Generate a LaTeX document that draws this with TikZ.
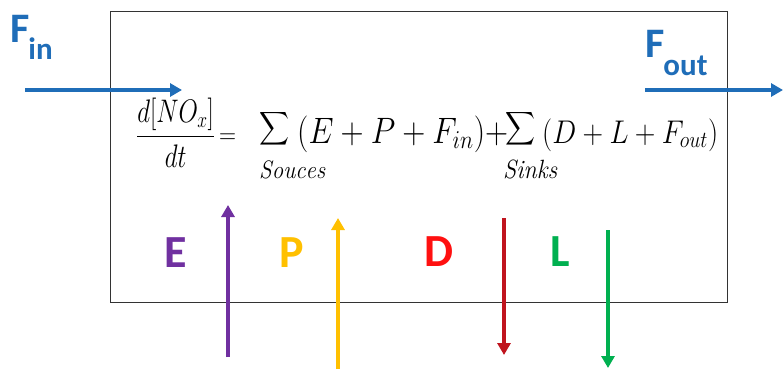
\RequirePackage{fix-cm}
\documentclass[tikz,border=0pt]{standalone}
\usepackage{amsmath}
\usepackage{fontspec}
\usetikzlibrary{arrows.meta}
\newfontfamily\calib{Carlito}
\definecolor{fblue}{HTML}{1F6DB8}
\definecolor{epurple}{HTML}{7030A0}
\definecolor{pyellow}{HTML}{FFC000}
\definecolor{dred}{HTML}{FF1010}
\definecolor{darrow}{HTML}{C0141E}
\definecolor{lgreen}{HTML}{00B050}
\definecolor{boxgray}{HTML}{333333}
\tikzset{
  flow/.style={line width=3.6pt, -{Triangle[length=12pt,width=13pt]}},
  biglet/.style={inner sep=0pt, anchor=base, font=\calib\bfseries\fontsize{46}{50}\selectfont},
  fluxlab/.style={inner sep=0pt, anchor=base west, font=\calib\bfseries\fontsize{42}{45}\selectfont, text=fblue},
  mathpart/.style={inner sep=0pt, anchor=base west, font=\fontsize{25}{30}\selectfont},
  sumsign/.style={inner sep=0pt, anchor=center, font=\fontsize{21}{25}\selectfont},
  limpart/.style={inner sep=0pt, anchor=base west, font=\fontsize{20}{24}\selectfont},
}
\begin{document}
\begin{tikzpicture}[x=1pt,y=-1pt]
\useasboundingbox (0,0) rectangle (783,369);
\fill[white] (0,0) rectangle (783,369);
\draw[boxgray, line width=1pt] (110,12) rectangle (727,302);

% flux labels
\node[fluxlab] (fin) at (10,43) {F\kern-1pt\raisebox{-17pt}{\fontsize{31}{31}\selectfont in}};
\node[fluxlab] (fout) at (645,57) {F\kern-1pt\raisebox{-18pt}{\fontsize{31}{31}\selectfont out}};

% equation, piece by piece
\node[mathpart] (frac) at (136,145) {\scalebox{1}[1.3]{\resizebox{79pt}{!}{$\displaystyle\frac{d[NO_x]}{dt}$}}};
\node[mathpart] (eqsign) at (219,143) {\scalebox{1}[1.15]{\resizebox{17pt}{!}{$=$}}};
\node[sumsign] (sum1) at (274,129) {\scalebox{1}[1.12]{\resizebox{30pt}{!}{$\displaystyle\sum$}}};
\node[limpart] (souces) at (259,178) {\scalebox{1}[1.1]{\resizebox{66pt}{!}{$\mathit{Souces}$}}};
\node[mathpart] (grp1) at (297,143) {\scalebox{1}[1.15]{\resizebox{211pt}{!}{$(E+P+F_{in})+$}}};
\node[sumsign] (sum2) at (520,129) {\scalebox{1}[1.12]{\resizebox{30pt}{!}{$\displaystyle\sum$}}};
\node[limpart] (sinks) at (503,178) {\scalebox{1}[1.1]{\resizebox{54pt}{!}{$\mathit{Sinks}$}}};
\node[mathpart] (grp2) at (542,143) {\scalebox{1}[1.15]{\resizebox{176pt}{!}{$(D+L+F_{out})$}}};

% letters
\node[biglet, text=epurple] (E) at (176,267) {E};
\node[biglet, text=pyellow] (P) at (292,267) {P};
\node[biglet, text=dred] (D) at (439,266) {D};
\node[biglet, text=lgreen] (L) at (560,266) {L};

% arrow endpoints
\coordinate (fina) at (25,90);
\coordinate (finb) at (182,90);
\coordinate (fouta) at (645,90);
\coordinate (foutb) at (783,90);
\coordinate (ea) at (228,357);
\coordinate (eb) at (228,205);
\coordinate (pa) at (338,369);
\coordinate (pb) at (338,218);
\coordinate (da) at (504,218);
\coordinate (db) at (504,355);
\coordinate (la) at (608,230);
\coordinate (lb) at (608,368);

\draw[flow, fblue] (fina) -- (finb);
\draw[flow, fblue] (fouta) -- (foutb);
\draw[flow, epurple] (ea) -- (eb);
\draw[flow, pyellow] (pa) -- (pb);
\draw[flow, darrow] (da) -- (db);
\draw[flow, lgreen] (la) -- (lb);
\end{tikzpicture}
\end{document}
